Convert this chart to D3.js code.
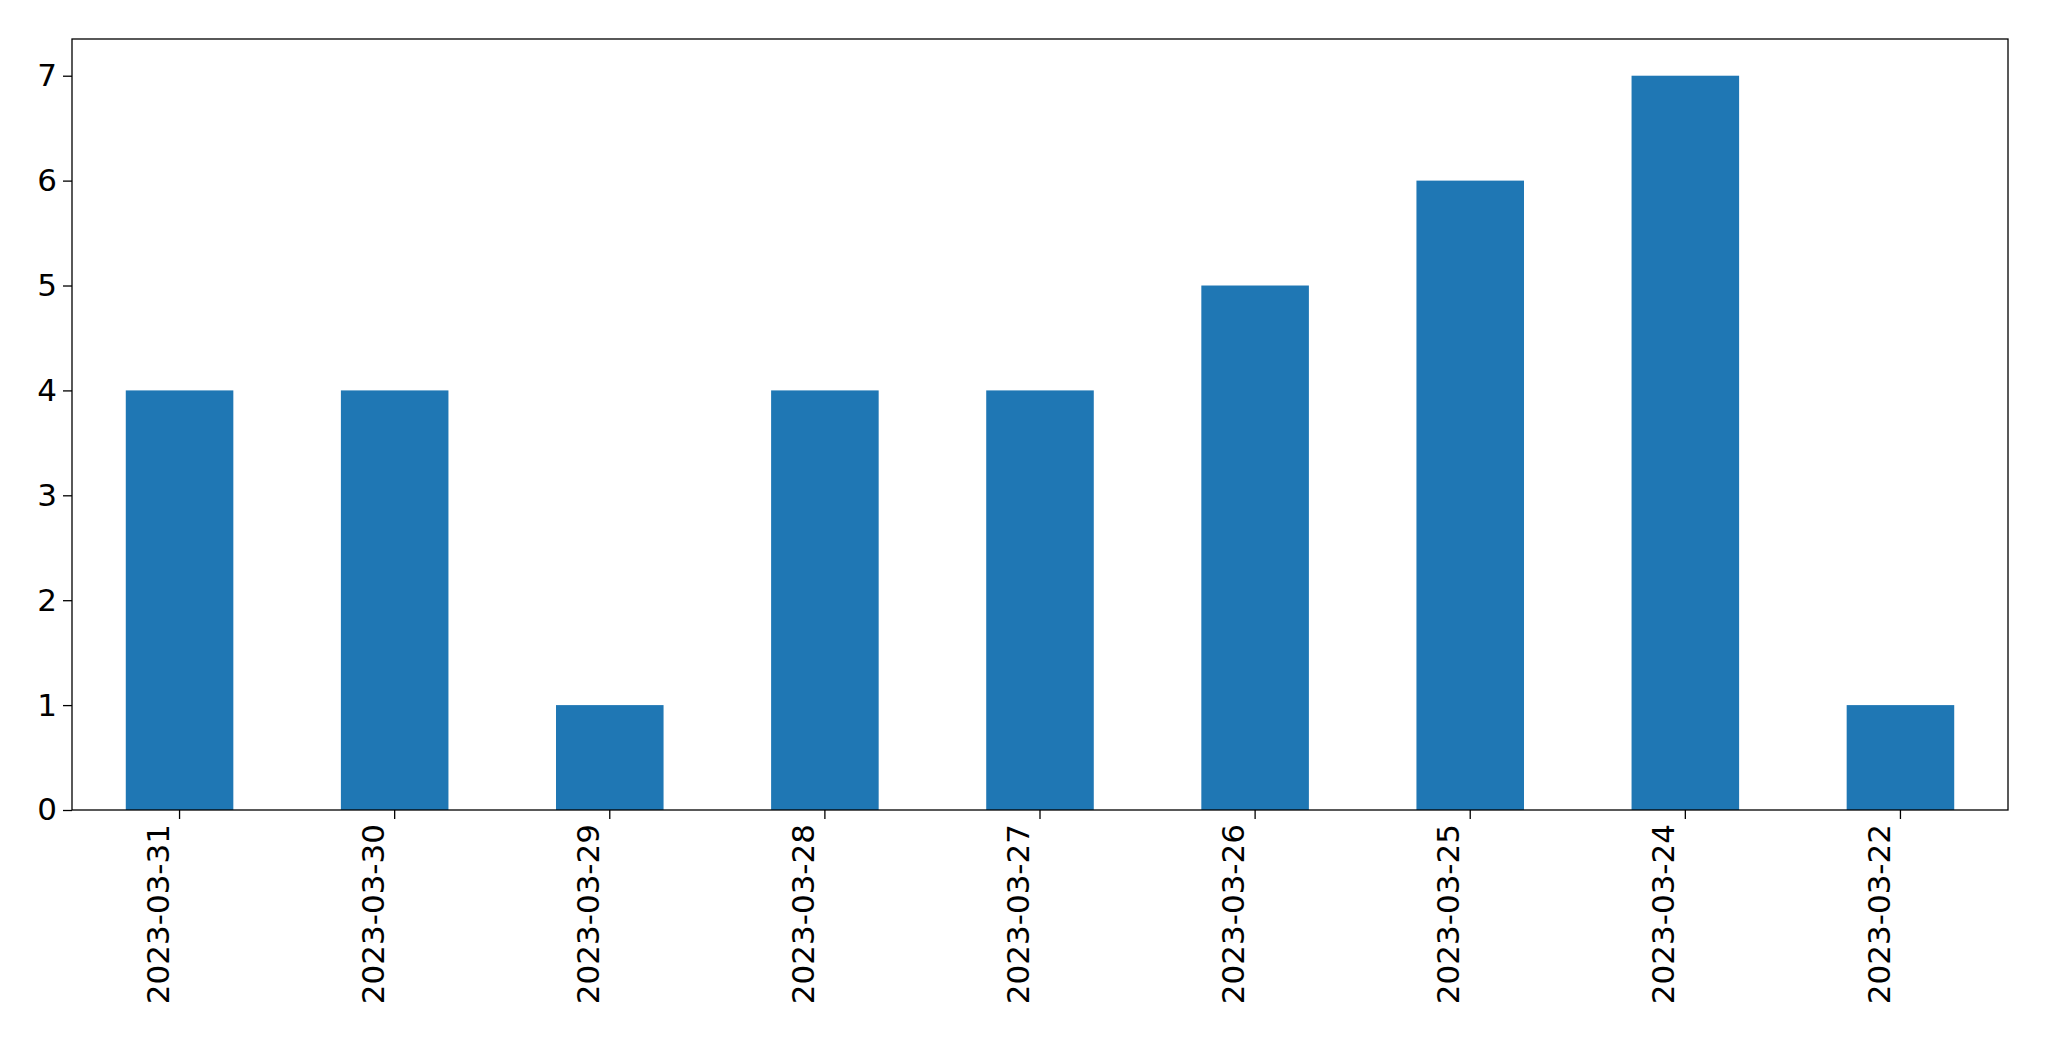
<!DOCTYPE html>
<html><head><meta charset="utf-8">
<script src="https://cdn.jsdelivr.net/npm/d3@7"></script>
<style>body{margin:0;background:#fff}text{font-family:"DejaVu Sans",sans-serif}</style>
</head><body><svg id="c" width="2049" height="1061"></svg>
<script>
const categories=["2023-03-31","2023-03-30","2023-03-29","2023-03-28","2023-03-27","2023-03-26","2023-03-25","2023-03-24","2023-03-22"];
const values=[4,4,1,4,4,5,6,7,1];
const yTicks=[0,1,2,3,4,5,6,7];
const m={l:72,r:41,t:39,b:251};
const W=2049,H=1061,iw=W-m.l-m.r,ih=H-m.t-m.b;
const svg=d3.select("#c");
const g=svg.append("g").attr("transform",`translate(${m.l},${m.t})`);
const x=d3.scaleBand().domain(categories).range([0,iw]).padding(0);
const y=d3.scaleLinear().domain([0,7.35]).range([ih,0]);
const bw=x.bandwidth()*0.5;
g.selectAll("rect.b").data(values).join("rect").attr("class","b")
 .attr("x",(d,i)=>x(categories[i])+x.bandwidth()/2-bw/2).attr("width",bw)
 .attr("y",d=>y(d)).attr("height",d=>ih-y(d)).attr("fill","#1f77b4");
const ya=g.append("g").call(d3.axisLeft(y).tickValues(yTicks).tickSize(9).tickPadding(6));
ya.selectAll("text").style("font-size","31px");
const xa=g.append("g").attr("transform",`translate(0,${ih})`).call(d3.axisBottom(x).tickSize(9).tickPadding(6));
xa.selectAll("text").style("font-size","31px").attr("transform","rotate(-90)").attr("text-anchor","end").attr("dx","-14px").attr("dy","-0.35em").attr("y",0);
[ya,xa].forEach(a=>{a.select(".domain").remove();a.selectAll("line").attr("stroke","#000").attr("stroke-width",1.3);});
g.append("rect").attr("width",iw).attr("height",ih).attr("fill","none").attr("stroke","#000").attr("stroke-width",1.3);
</script></body></html>
